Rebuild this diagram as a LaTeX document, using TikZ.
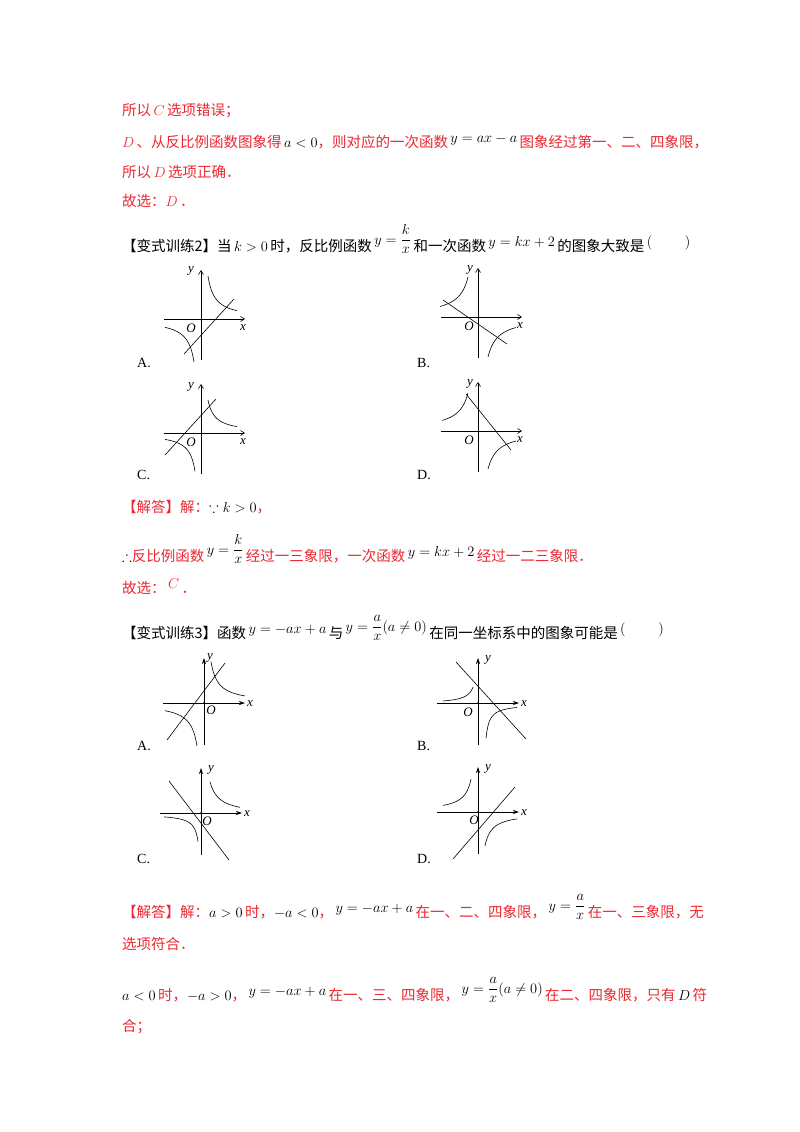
\documentclass[tikz,border=0pt]{standalone}
\usepackage{amsmath,amssymb}
\usepackage{fontspec}
\setmainfont{Liberation Serif}
\newfontfamily\cjk{Noto Sans CJK SC}
\usetikzlibrary{arrows.meta}
\definecolor{ared}{RGB}{236,40,50}
\newcommand{\C}[1]{{\cjk #1}}
\newcommand{\R}[1]{{\color{ared}\cjk #1}}
\newcommand{\up}[1]{\,\raisebox{5pt}{$#1$}\,}
\tikzset{txt/.style={anchor=base west,inner sep=0pt,font=\fontsize{14.5}{17}\selectfont},
 ax/.style={line width=0.6pt,-{Straight Barb[length=4pt,width=5pt]}},
 ax2/.style={line width=0.7pt,-{Stealth[length=6pt,width=4pt]}},
 cv/.style={line width=0.6pt},
 lab/.style={font=\fontsize{13}{15}\selectfont\itshape,inner sep=0pt},
 opt/.style={anchor=base west,inner sep=0pt,font=\fontsize{14}{15}\selectfont}}
\begin{document}
\begin{tikzpicture}[x=1pt,y=-1pt]
\useasboundingbox (0,0) rectangle (800,1132);
\fill[white] (0,0) rectangle (800,1132);
\node[txt] (l1) at (122,115) {\R{所以}\,$\color{ared}C$\,\R{选项错误；}};
\node[txt] (l2) at (122,147) {$\color{ared}D$\,\R{、从反比例函数图象得}\,$a<0$\R{，则对应的一次函数}\up{y=ax-a}\R{图象经过第一、二、四象限，}};
\node[txt] (l3) at (122,177) {\R{所以}\,$\color{ared}D$\,\R{选项正确．}};
\node[txt] (l4) at (122,206) {\R{故选：}$\color{ared}D$\,\R{．}};
\node[txt] (l5) at (122,251) {\C{【变式训练2】当}\,$k>0$\,\C{时，反比例函数}\,\raisebox{7pt}{$y=\dfrac{k}{x}$}\,\C{和一次函数}\up{y=kx+2}\C{的图象大致是}\up{(\qquad\ )}};
% set 1 graphs
\begin{scope}[shift={(201,319)},yscale=-1]
 \draw[ax] (-37,0)--(44,0); \draw[ax] (0,-41)--(0,49);
 \node[lab] (y1) at (-10,48) {y}; \node[lab] (x1) at (42,-9) {x}; \node[lab] (o1) at (-10,-9) {O};
 \draw[cv,domain=7:36,samples=40] plot (\x,{300/\x});
 \draw[cv,domain=-36:-7,samples=40] plot (\x,{300/\x});
 \draw[cv] (-17,-35)--(33,20);
\end{scope}
\node[opt] (A1) at (137,367) {A.};
\begin{scope}[shift={(478,317)},yscale=-1]
 \draw[ax] (-37,0)--(44,0); \draw[ax] (0,-41)--(0,49);
 \node[lab] (y2) at (-8,47) {y}; \node[lab] (x2) at (42,-9) {x}; \node[lab] (o2) at (-9,-9) {O};
 \draw[cv,domain=-38:-10,samples=40] plot (\x,{-400/\x});
 \draw[cv,domain=10:38,samples=40] plot (\x,{-400/\x});
 \draw[cv] (-35,17)--(29,-27);
\end{scope}
\node[opt] (B1) at (417,367) {B.};
\begin{scope}[shift={(201,433)},yscale=-1]
 \draw[ax] (-37,0)--(44,0); \draw[ax] (0,-41)--(0,49);
 \node[lab] (y3) at (-10,46) {y}; \node[lab] (x3) at (42,-9) {x}; \node[lab] (o3) at (-10,-9) {O};
 \draw[cv,domain=7:36,samples=40] plot (\x,{230/\x});
 \draw[cv,domain=-36:-6,samples=40] plot (\x,{230/\x});
 \draw[cv] (-36,-22)--(15,34);
\end{scope}
\node[opt] (C1) at (137,479) {C.};
\begin{scope}[shift={(478,431)},yscale=-1]
 \draw[ax] (-37,0)--(44,0); \draw[ax] (0,-41)--(0,49);
 \node[lab] (y4) at (-8,47) {y}; \node[lab] (x4) at (42,-9) {x}; \node[lab] (o4) at (-9,-9) {O};
 \draw[cv,domain=-36:-10,samples=40] plot (\x,{-380/\x});
 \draw[cv,domain=10:38,samples=40] plot (\x,{-380/\x});
 \draw[cv] (-12,37)--(33,-19);
\end{scope}
\node[opt] (D1) at (417,479) {D.};
\node[txt] (l6) at (122,512) {\R{【解答】解：}$\because k>0$\R{，}};
\node[txt] (l7) at (122,561) {$\therefore$\R{反比例函数}\,\raisebox{7pt}{$y=\dfrac{k}{x}$}\,\R{经过一三象限，一次函数}\up{y=kx+2}\R{经过一二三象限．}};
\node[txt] (l8) at (122,593) {\R{故选：}\up{\color{ared}C}\R{．}};
\node[txt] (l9) at (122,638) {\C{【变式训练3】函数}\up{y=-ax+a}\C{与}\,\raisebox{7pt}{$y=\dfrac{a}{x}(a\ne0)$}\,\C{在同一坐标系中的图象可能是}\up{(\qquad\ )}};
% set 2 graphs
\begin{scope}[shift={(204,703)},yscale=-1]
 \draw[ax2] (-41,0)--(41,0); \draw[ax2] (0,-42)--(0,45);
 \fill (0,0) circle (1pt);
 \node[lab] (y5) at (6,45) {y}; \node[lab] (x5) at (46,-1) {x}; \node[lab] (o5) at (7,-7) {O};
 \draw[cv,domain=7:41,samples=40] plot (\x,{290/\x});
 \draw[cv,domain=-39:-7,samples=40] plot (\x,{300/\x});
 \draw[cv] (-37,-37)--(21,40);
\end{scope}
\node[opt] (A2) at (137,750) {A.};
\begin{scope}[shift={(478,703)},yscale=-1]
 \draw[ax2] (-41,0)--(41,0); \draw[ax2] (0,-42)--(0,45);
 \fill (0,0) circle (1pt);
 \node[lab] (y6) at (10,43) {y}; \node[lab] (x6) at (46,-1) {x}; \node[lab] (o6) at (-10,-9) {O};
 \draw[cv,domain=-35:-5,samples=40] plot (\x,{-110/(\x-1.5)+(-1)});
 \draw[cv,domain=8:39,samples=40] plot (\x,{-120/(\x-4.5)+ -1});
 \draw[cv] (-22,41)--(48,-36);
\end{scope}
\node[opt] (B2) at (417,750) {B.};
\begin{scope}[shift={(201,813)},yscale=-1]
 \draw[ax2] (-41,0)--(41,0); \draw[ax2] (0,-42)--(0,45);
 \fill (0,0) circle (1pt);
 \node[lab] (y7) at (10,43) {y}; \node[lab] (x7) at (46,-1) {x}; \node[lab] (o7) at (6,-8) {O};
 \draw[cv,domain=9:39,samples=40] plot (\x,{300/\x-2});
 \draw[cv,domain=-37:-3,samples=40] plot (\x,{110/(\x-1)+ -1});
 \draw[cv] (-32,32)--(28,-47);
\end{scope}
\node[opt] (C2) at (137,863) {C.};
\begin{scope}[shift={(478,812)},yscale=-1]
 \draw[ax2] (-41,0)--(41,0); \draw[ax2] (0,-42)--(0,45);
 \fill (0,0) circle (1pt);
 \node[lab] (y8) at (10,43) {y}; \node[lab] (x8) at (46,-1) {x}; \node[lab] (o8) at (-4,-8) {O};
 \draw[cv,domain=-35:-7,samples=40] plot (\x,{-230/\x});
 \draw[cv,domain=7:39,samples=40] plot (\x,{-230/\x-1});
 \draw[cv] (-25,-47)--(37,25);
\end{scope}
\node[opt] (D2) at (417,863) {D.};
\node[txt] (l10) at (122,917) {\R{【解答】解：}$a>0$\,\R{时，}$-a<0$\R{，}\up{y=-ax+a}\R{在一、二、四象限，}\,\raisebox{7pt}{$y=\dfrac{a}{x}$}\,\R{在一、三象限，无}};
\node[txt] (l11) at (122,949) {\R{选项符合．}};
\node[txt] (l12) at (122,1000) {$a<0$\,\R{时，}$-a>0$\R{，}\up{y=-ax+a}\R{在一、三、四象限，}\,\raisebox{7pt}{$y=\dfrac{a}{x}(a\ne0)$}\,\R{在二、四象限，只有}\,$D$\,\R{符}};
\node[txt] (l13) at (122,1031) {\R{合；}};
\end{tikzpicture}
\end{document}
